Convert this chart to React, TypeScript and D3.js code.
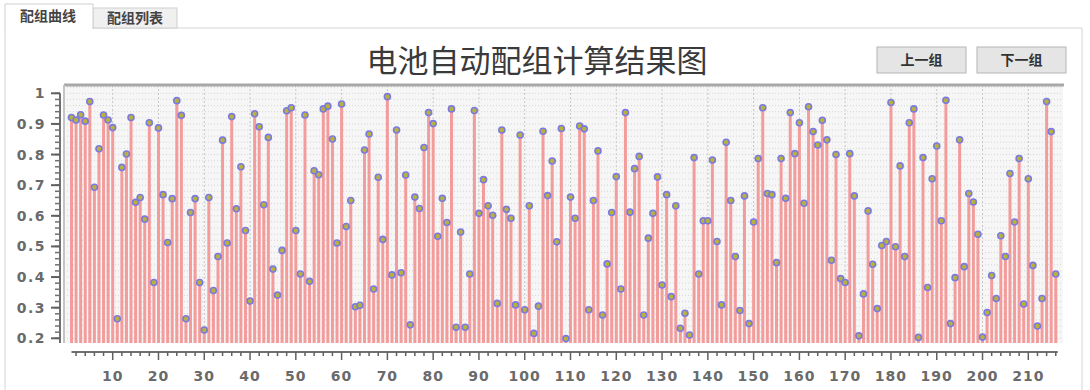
import React from 'react';
import * as d3 from 'd3';

// 电池配组结果 values (index 1..216)
const values: number[] = [
  0.921, 0.913, 0.930, 0.909, 0.973, 0.693, 0.819, 0.929, 0.913, 0.888,
  0.264, 0.758, 0.802, 0.921, 0.644, 0.660, 0.589, 0.904, 0.382, 0.887,
  0.669, 0.513, 0.656, 0.976, 0.928, 0.264, 0.611, 0.656, 0.382, 0.227,
  0.660, 0.356, 0.467, 0.847, 0.511, 0.924, 0.623, 0.760, 0.552, 0.322,
  0.933, 0.891, 0.636, 0.856, 0.426, 0.341, 0.487, 0.943, 0.953, 0.552,
  0.410, 0.929, 0.386, 0.747, 0.734, 0.949, 0.958, 0.851, 0.511, 0.965,
  0.565, 0.650, 0.303, 0.308, 0.815, 0.867, 0.361, 0.726, 0.523, 0.989,
  0.407, 0.880, 0.414, 0.733, 0.244, 0.661, 0.624, 0.823, 0.937, 0.901,
  0.533, 0.657, 0.578, 0.949, 0.236, 0.547, 0.236, 0.410, 0.944, 0.608,
  0.718, 0.633, 0.602, 0.314, 0.880, 0.621, 0.592, 0.309, 0.864, 0.293,
  0.633, 0.216, 0.305, 0.876, 0.666, 0.779, 0.515, 0.885, 0.199, 0.661,
  0.592, 0.893, 0.884, 0.293, 0.650, 0.812, 0.276, 0.443, 0.611, 0.728,
  0.361, 0.937, 0.612, 0.754, 0.794, 0.276, 0.527, 0.608, 0.727, 0.374,
  0.669, 0.336, 0.633, 0.233, 0.282, 0.211, 0.790, 0.410, 0.584, 0.584,
  0.782, 0.516, 0.309, 0.840, 0.650, 0.467, 0.291, 0.665, 0.248, 0.580,
  0.787, 0.953, 0.673, 0.669, 0.447, 0.787, 0.657, 0.937, 0.803, 0.904,
  0.641, 0.956, 0.875, 0.831, 0.912, 0.848, 0.455, 0.800, 0.395, 0.382,
  0.803, 0.665, 0.208, 0.345, 0.616, 0.442, 0.297, 0.503, 0.516, 0.970,
  0.499, 0.763, 0.467, 0.904, 0.949, 0.203, 0.790, 0.366, 0.721, 0.828,
  0.584, 0.977, 0.248, 0.398, 0.848, 0.434, 0.673, 0.645, 0.540, 0.204,
  0.284, 0.405, 0.330, 0.535, 0.467, 0.738, 0.580, 0.787, 0.312, 0.721,
  0.438, 0.240, 0.330, 0.973, 0.875, 0.410,
];

const yTicks = [0.2, 0.3, 0.4, 0.5, 0.6, 0.7, 0.8, 0.9, 1];
const xTicks = [10, 20, 30, 40, 50, 60, 70, 80, 90, 100, 110, 120, 130, 140, 150, 160, 170, 180, 190, 200, 210];
const title = '电池自动配组计算结果图';
const tabs = ['配组曲线', '配组列表'];
const buttons = ['上一组', '下一组'];

const W = 1090;
const H = 390;
const plot = { left: 64, right: 1063, top: 85, bottom: 343 };
const cjk = '"Noto Sans CJK SC", "Noto Sans", sans-serif';
const tickFont = '"DejaVu Sans", sans-serif';

const App = () => {
  const x = d3.scaleLinear().domain([1, values.length]).range([71.5, 71.5 + 215 * 4.578]);
  const y = d3.scaleLinear().domain([0.2, 1]).range([338.3, 93.3]);

  const minorY = d3.range(0.2, 1.0001, 0.02);
  const minorX = d3.range(2, 217, 2);
  const gridX = d3.range(10, 217, 10);
  const gridY = d3.range(0.2, 1.021, 0.02);

  return (
    <div style={{ position: 'absolute', left: 0, top: 0 }}>
      <svg width={W} height={H} style={{ display: 'block', background: '#fff' }}>
        {/* tabs */}
        <path d="M5,390 V28 H1082 V390" fill="none" stroke="#d4d4d4" />
        <rect x={93} y={8} width={84} height={20} fill="#f0f0f0" stroke="#cfcfcf" />
        <path d="M5,28 V4 H93 V28" fill="#fff" stroke="#cfcfcf" />
        <line x1={6} x2={92} y1={28} y2={28} stroke="#fff" strokeWidth={2} />
        <text x={48} y={21} textAnchor="middle" fontFamily={cjk} fontSize={14} fontWeight="bold" fill="#444">{tabs[0]}</text>
        <text x={135} y={23} textAnchor="middle" fontFamily={cjk} fontSize={14} fontWeight="bold" fill="#444">{tabs[1]}</text>

        {/* title and buttons */}
        <text x={537} y={72} textAnchor="middle" fontFamily={cjk} fontSize={31} fill="#3a3a3a">{title}</text>
        {buttons.map((b, i) => (
          <g key={b} transform={`translate(${877 + i * 100},47)`}>
            <rect x={0} y={0} width={89} height={26} fill="#e5e5e5" stroke="#b5b5b5" />
            <text x={44.5} y={18} textAnchor="middle" fontFamily={cjk} fontSize={14} fontWeight="bold" fill="#333">{b}</text>
          </g>
        ))}

        {/* plot background and grid */}
        <rect x={plot.left} y={plot.top} width={plot.right - plot.left} height={plot.bottom - plot.top} fill="#f6f6f6" />
        {gridY.map((v) => (
          <line key={'gy' + v} x1={plot.left} x2={plot.right} y1={y(v)} y2={y(v)} stroke="#d6d6d6" strokeDasharray="1,2" />
        ))}
        {gridX.map((v) => (
          <line key={'gx' + v} x1={x(v)} x2={x(v)} y1={plot.top} y2={plot.bottom} stroke="#c8c8c8" strokeDasharray="2,2" />
        ))}

        {/* stems */}
        {values.map((v, i) => (
          <line key={'s' + i} x1={x(i + 1)} x2={x(i + 1)} y1={plot.bottom} y2={y(v)} stroke="#f39c9c" strokeWidth={3} />
        ))}
        {values.map((v, i) => (
          <circle key={'p' + i} cx={x(i + 1)} cy={y(v)} r={3} fill="#b8b23c" stroke="#7a7ae0" strokeWidth={1.6} />
        ))}

        {/* frame */}
        <line x1={plot.left} x2={plot.right + 1} y1={plot.top} y2={plot.top} stroke="#a8a8a8" strokeWidth={3} />
        <line x1={plot.left} x2={plot.left} y1={plot.top} y2={plot.bottom} stroke="#c4c4c4" strokeWidth={2} />

        {/* y axis */}
        <line x1={60} x2={60} y1={y(1)} y2={plot.bottom} stroke="#707070" strokeWidth={2} />
        {minorY.map((v) => (
          <line key={'my' + v} x1={55} x2={60} y1={y(v)} y2={y(v)} stroke="#707070" strokeWidth={1.5} />
        ))}
        {yTicks.map((v) => (
          <g key={'yt' + v}>
            <line x1={51} x2={60} y1={y(v)} y2={y(v)} stroke="#606060" strokeWidth={2} />
            <text x={46} y={y(v) + 5} textAnchor="end" fontFamily={tickFont} fontSize={14} fontWeight="bold" letterSpacing={1.5} fill="#6a6a6a">
              {d3.format('~g')(v)}
            </text>
          </g>
        ))}

        {/* x axis */}
        <line x1={x(1)} x2={x(values.length) + 2} y1={352} y2={352} stroke="#707070" strokeWidth={2} />
        {minorX.map((v) => (
          <line key={'mx' + v} x1={x(v)} x2={x(v)} y1={352} y2={v % 10 === 0 ? 360 : 356} stroke="#606060" strokeWidth={1.5} />
        ))}
        {xTicks.map((v) => (
          <text key={'xt' + v} x={x(v)} y={381} textAnchor="middle" fontFamily={tickFont} fontSize={14} fontWeight="bold" letterSpacing={1} fill="#6a6a6a">
            {v}
          </text>
        ))}
      </svg>
    </div>
  );
};

export default App;
